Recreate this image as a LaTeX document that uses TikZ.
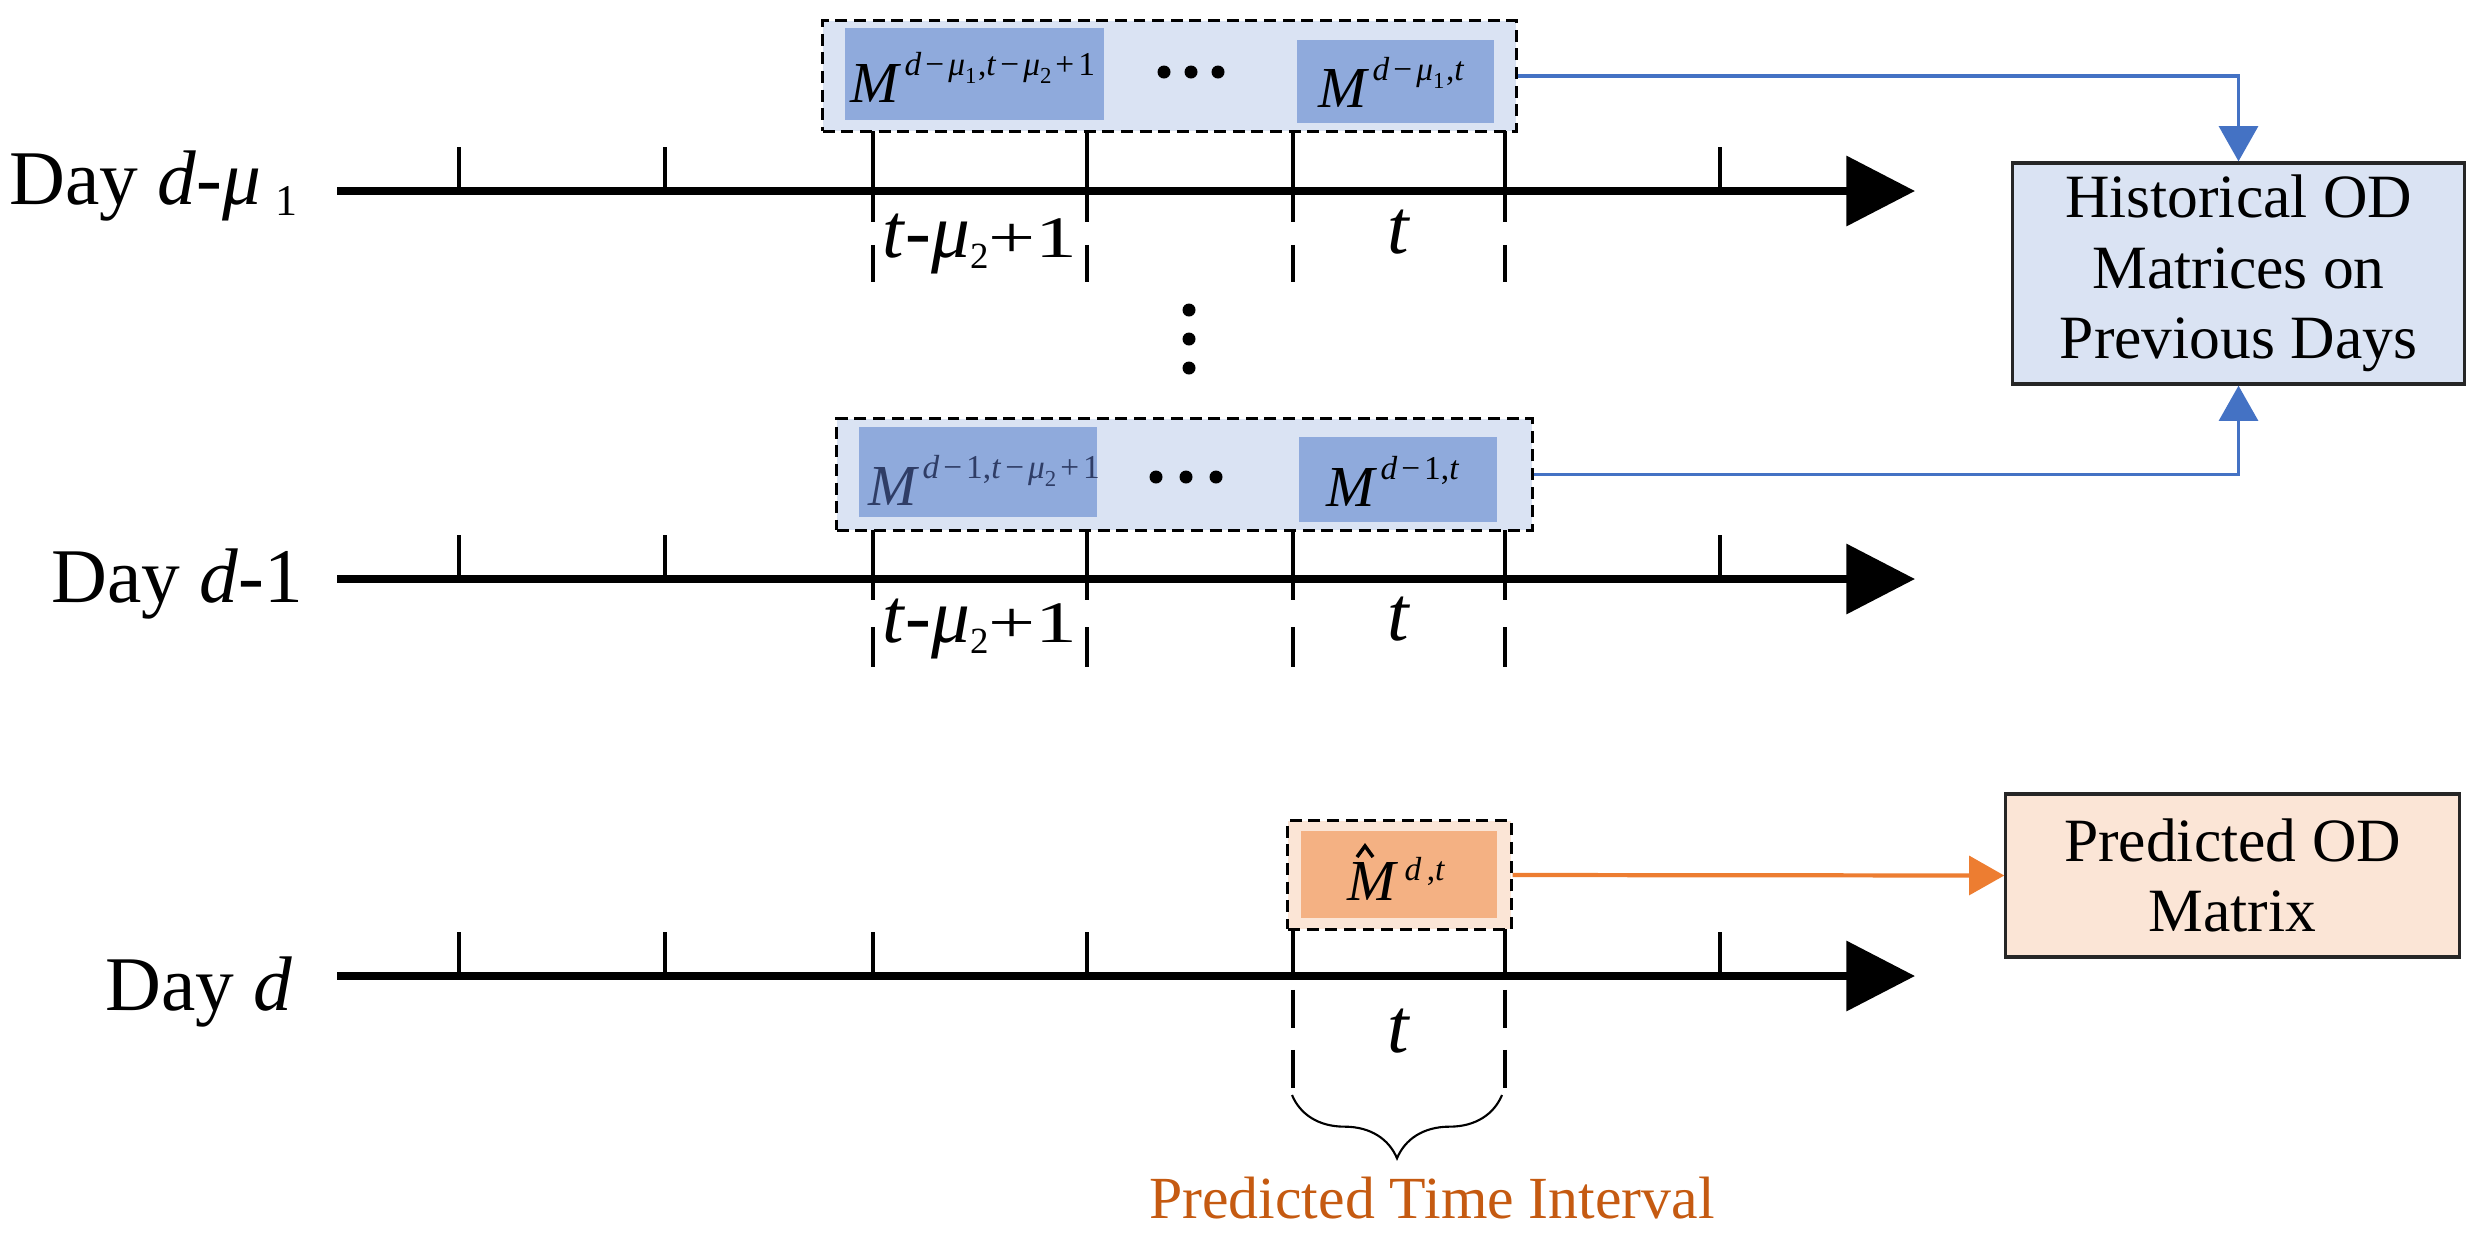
\documentclass[tikz,border=0pt]{standalone}
\usepackage{fontspec}
\usepackage{graphicx}
\setmainfont{Liberation Serif}
\usetikzlibrary{arrows.meta,decorations.pathreplacing}
\definecolor{lblue}{HTML}{DAE3F3}
\definecolor{mblue}{HTML}{8FAADC}
\definecolor{ablue}{HTML}{4472C4}
\definecolor{lorange}{HTML}{FBE5D6}
\definecolor{morange}{HTML}{F4B183}
\definecolor{aorange}{HTML}{ED7D31}
\definecolor{torange}{HTML}{C55A11}
\definecolor{slate}{HTML}{2F3D66}
\newcommand{\mi}[1]{\textit{#1}}
\newcommand{\opx}[1]{\kern0.12em#1\kern0.12em}
\newcommand{\ssx}[1]{\raisebox{-2.2pt}{\fontsize{6.5}{7}\selectfont #1}}
\newcommand{\Msup}[1]{\textit{M}\kern0.05em\raisebox{7.5pt}{\fontsize{9.5}{10}\selectfont #1}}
\newcommand{\tlab}{\mi{t}-\mi{μ}\raisebox{-3.4pt}{\fontsize{10.5}{11}\selectfont 2}\scalebox{1.08}[0.76]{+1}}
\begin{document}
\begin{tikzpicture}[x=0.01cm,y=-0.01cm,
  axisline/.style={line width=2.3pt,-{Triangle[length=19.5pt,width=19.5pt]}},
  tickline/.style={line width=1.4pt},
  outerbox/.style={draw=black,line width=0.85pt,dash pattern=on 3.4pt off 1.9pt,inner sep=0},
  innerbox/.style={draw=none,inner sep=0},
  mtext/.style={anchor=base west,inner sep=0,font=\fontsize{16.5}{16.5}\selectfont},
  daylbl/.style={anchor=base east,inner sep=0,font=\fontsize{22}{22}\selectfont},
  tlbl/.style={anchor=base,inner sep=0,font=\fontsize{22}{22}\selectfont},
  infobox/.style={draw=black!85,line width=0.9pt,align=center,inner sep=0,font=\fontsize{17.5}{20}\selectfont},
  bluearr/.style={draw=ablue,line width=1.1pt,-{Triangle[length=10pt,width=11pt,fill=ablue]}},
  orarr/.style={draw=aorange,line width=1.2pt,-{Triangle[length=10pt,width=11pt,fill=aorange]}},
  dotc/.style={fill=black,draw=none,circle,inner sep=0,minimum size=0.13cm}
]
\useasboundingbox (0,0) rectangle (2481,1247);

% dashed group boxes
\node[outerbox,fill=lblue,minimum width=6.93cm,minimum height=1.10cm] (topbox) at (1169.5,76) {};
\node[innerbox,fill=mblue,minimum width=2.59cm,minimum height=0.92cm] (t1box) at (974.5,74) {};
\node[innerbox,fill=mblue,minimum width=1.97cm,minimum height=0.83cm] (t2box) at (1395.5,81.5) {};
\node[mtext] (t1txt) at (850,102) {\Msup{\mi{d}\opx{−}\mi{μ}\ssx{1}\kern0.05em,\mi{t}\opx{−}\mi{μ}\ssx{2}\opx{+}1}};
\node[mtext] (t2txt) at (1318,107) {\Msup{\mi{d}\opx{−}\mi{μ}\ssx{1}\kern0.05em,\mi{t}}};
\node[dotc] (td1) at (1164,72) {};
\node[dotc] (td2) at (1191,72) {};
\node[dotc] (td3) at (1218,72) {};

\node[outerbox,fill=lblue,minimum width=6.95cm,minimum height=1.11cm] (midbox) at (1184.5,474.5) {};
\node[innerbox,fill=mblue,minimum width=2.38cm,minimum height=0.90cm] (m1box) at (978,472) {};
\node[innerbox,fill=mblue,minimum width=1.98cm,minimum height=0.85cm] (m2box) at (1398,479.5) {};
\node[mtext,text=slate] (m1txt) at (868,505) {\Msup{\mi{d}\opx{−}1,\mi{t}\opx{−}\mi{μ}\ssx{2}\opx{+}1}};
\node[mtext] (m2txt) at (1326,506) {\Msup{\mi{d}\opx{−}1,\mi{t}}};
\node[dotc] (md1) at (1156,477) {};
\node[dotc] (md2) at (1186,477) {};
\node[dotc] (md3) at (1216,477) {};

\node[outerbox,fill=lorange,minimum width=2.23cm,minimum height=1.08cm] (botbox) at (1399.5,875) {};
\node[innerbox,fill=morange,minimum width=1.96cm,minimum height=0.87cm] (b1box) at (1399,874.5) {};
\node[mtext] (b1txt) at (1347,900) {\textit{M}\kern0.1em\raisebox{5.5pt}{\fontsize{9.5}{10}\selectfont \mi{d}\,,\mi{t}}};
% hat accent over M
\draw[line width=1pt,line join=miter] (1357,857) -- (1365,846) -- (1373,857);

% vertical ellipsis
\node[dotc] (vd1) at (1189,310) {};
\node[dotc] (vd2) at (1189,339) {};
\node[dotc] (vd3) at (1189,368) {};

% axes
\coordinate (a1s) at (337,191); \coordinate (a1e) at (1915,191);
\coordinate (a2s) at (337,579); \coordinate (a2e) at (1915,579);
\coordinate (a3s) at (337,976); \coordinate (a3e) at (1915,976);
\draw[axisline] (a1s) -- (a1e);
\draw[axisline] (a2s) -- (a2e);
\draw[axisline] (a3s) -- (a3e);

% short ticks
\foreach \x in {459,665,1720} {
  \draw[tickline] (\x,191) -- (\x,147);
  \draw[tickline] (\x,579) -- (\x,535);
}
\foreach \x in {459,665,873,1087,1720}
  \draw[tickline] (\x,976) -- (\x,932);

% interval boundaries
\foreach \x in {873,1087,1293,1505} {
  \draw[tickline,dash pattern=on 25.9pt off 6.5pt on 10.5pt off 30pt] (\x,131) -- (\x,282);
  \draw[tickline,dash pattern=on 19.9pt off 7.7pt on 11.4pt off 30pt] (\x,530) -- (\x,667);
}
\foreach \x in {1293,1505}
  \draw[tickline,dash pattern=on 14.5pt off 2.8pt on 10.8pt off 6.3pt on 10.8pt off 30pt] (\x,929) -- (\x,1088);

% day labels
\node[daylbl] (day1) at (298,204) {Day \mi{d}-\mi{μ}\kern0.18em\raisebox{-3.4pt}{\fontsize{12.5}{12.5}\selectfont 1}};
\node[daylbl] (day2) at (304,602) {Day \mi{d}-1};
\node[daylbl] (day3) at (293,1010) {Day \mi{d}};

% interval labels
\node[tlbl] (l1a) at (980,257) {\tlab};
\node[tlbl] (l1b) at (1399,253) {\mi{t}};
\node[tlbl] (l2a) at (980,642) {\tlab};
\node[tlbl] (l2b) at (1399,640) {\mi{t}};
\node[tlbl] (l3b) at (1399,1052) {\mi{t}};

% brace
\coordinate (brl) at (1292,1095);
\coordinate (brr) at (1502,1095);
\draw[line width=0.6pt,decorate,decoration={brace,mirror,amplitude=18pt}] (brl) -- (brr);
\node[inner sep=0,text=torange,font=\fontsize{17}{17}\selectfont] (pti) at (1432,1198) {Predicted Time Interval};

% info boxes
\node[infobox,fill=lblue,minimum width=4.51cm,minimum height=2.21cm] (hist) at (2238.5,273.5) {Historical OD\\Matrices on\\Previous Days};
\node[infobox,fill=lorange,minimum width=4.53cm,minimum height=1.63cm] (pred) at (2232.5,875.5) {Predicted OD\\Matrix};

% connectors
\draw[bluearr] (topbox.east) -| (hist.north);
\draw[bluearr] (midbox.east) -| (hist.south);
\draw[orarr] (botbox.east) -- (pred.west);
\end{tikzpicture}
\end{document}
